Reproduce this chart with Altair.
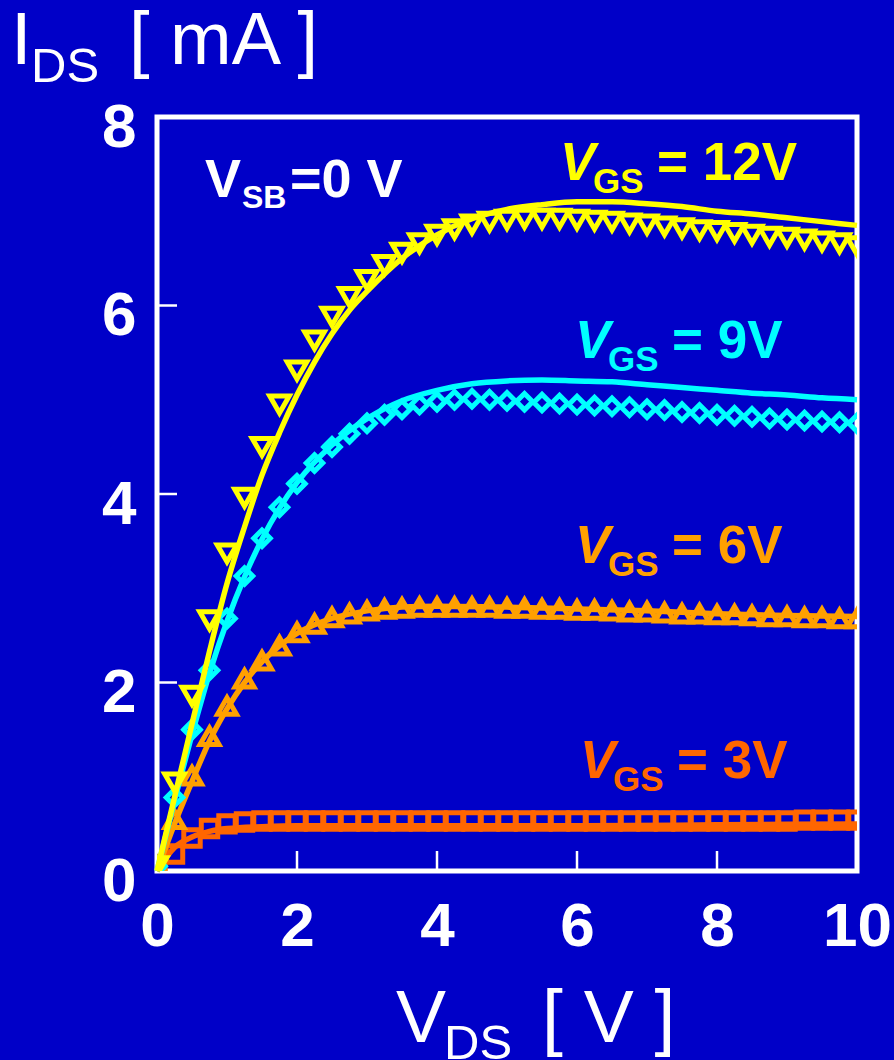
import altair as alt
import pandas as pd

# ---------------- data ----------------
VDS_MEAS = [0, 0.25, 0.5, 0.75, 1.0, 1.25, 1.5, 1.75, 2.0, 2.25, 2.5, 2.75, 3.0, 3.25,
            3.5, 3.75, 4.0, 4.25, 4.5, 4.75, 5.0, 5.25, 5.5, 5.75, 6.0, 6.25, 6.5,
            6.75, 7.0, 7.25, 7.5, 7.75, 8.0, 8.25, 8.5, 8.75, 9.0, 9.25, 9.5, 9.75, 10.0]

MEAS_12V = [0.05, 0.94, 1.86, 2.66, 3.37, 3.96, 4.50, 4.95, 5.31, 5.63, 5.88, 6.09, 6.27, 6.43,
            6.56, 6.66, 6.75, 6.81, 6.86, 6.89, 6.91, 6.92, 6.92, 6.92, 6.91, 6.90, 6.89,
            6.87, 6.86, 6.84, 6.82, 6.80, 6.79, 6.77, 6.75, 6.73, 6.72, 6.70, 6.68, 6.66, 6.63]
MEAS_9V = [0.05, 0.78, 1.50, 2.13, 2.68, 3.13, 3.53, 3.86, 4.11, 4.33, 4.50, 4.64, 4.75, 4.84,
           4.90, 4.95, 4.98, 5.00, 5.01, 5.00, 4.99, 4.98, 4.97, 4.96, 4.95, 4.94, 4.93,
           4.92, 4.90, 4.89, 4.87, 4.86, 4.84, 4.83, 4.82, 4.80, 4.79, 4.78, 4.77, 4.76, 4.75]
MEAS_6V = [0.05, 0.55, 1.01, 1.43, 1.75, 2.04, 2.23, 2.39, 2.53, 2.62, 2.69, 2.73, 2.76, 2.78,
           2.79, 2.80, 2.80, 2.80, 2.80, 2.80, 2.79, 2.79, 2.78, 2.78, 2.77, 2.77, 2.76,
           2.75, 2.75, 2.74, 2.73, 2.73, 2.72, 2.72, 2.71, 2.70, 2.70, 2.69, 2.69, 2.68, 2.68]
MEAS_3V = [0.05, 0.18, 0.35, 0.45, 0.50, 0.52, 0.53, 0.53, 0.53, 0.53, 0.53, 0.53, 0.53, 0.53,
           0.53, 0.53, 0.53, 0.53, 0.53, 0.53, 0.53, 0.53, 0.53, 0.53, 0.53, 0.53, 0.53,
           0.53, 0.53, 0.53, 0.53, 0.53, 0.53, 0.53, 0.53, 0.53, 0.53, 0.54, 0.54, 0.54, 0.54]

SIM_X_12V = [0, 0.25, 0.5, 0.75, 1.0, 1.25, 1.5, 1.75, 2.0, 2.25, 2.5, 2.75, 3.0, 3.5, 4.0,
             4.5, 5.0, 5.5, 6.0, 6.5, 7.0, 7.5, 8.0, 8.5, 9.0, 9.5, 10.0]
SIM_12V = [0, 0.78, 1.56, 2.33, 3.05, 3.65, 4.20, 4.65, 5.05, 5.40, 5.70, 5.95, 6.15, 6.50, 6.75,
           6.92, 7.02, 7.07, 7.10, 7.10, 7.08, 7.05, 7.00, 6.97, 6.93, 6.89, 6.85]
SIM_X_9V = [0, 0.25, 0.5, 0.75, 1.0, 1.25, 1.5, 1.75, 2.0, 2.5, 3.0, 3.5, 4.0, 4.5, 5.0, 5.5,
            6.0, 6.5, 7.0, 7.5, 8.0, 8.5, 9.0, 9.5, 10.0]
SIM_9V = [0, 0.75, 1.45, 2.10, 2.65, 3.12, 3.52, 3.85, 4.12, 4.52, 4.80, 4.99, 5.10, 5.17, 5.20,
          5.21, 5.20, 5.19, 5.16, 5.13, 5.10, 5.07, 5.05, 5.02, 5.00]
SIM_X_6V = [0, 0.25, 0.5, 0.75, 1.0, 1.25, 1.5, 1.75, 2.0, 2.5, 3.0, 3.5, 4.0, 5.0, 6.0, 7.0,
            8.0, 9.0, 10.0]
SIM_6V = [0, 0.50, 0.95, 1.38, 1.72, 2.00, 2.22, 2.39, 2.52, 2.68, 2.76, 2.80, 2.81, 2.80, 2.78,
          2.76, 2.73, 2.71, 2.70]
SIM_X_3V = [0, 0.25, 0.5, 0.75, 1.0, 1.5, 2.0, 4.0, 6.0, 8.0, 10.0]
SIM_3V = [0, 0.25, 0.36, 0.42, 0.45, 0.47, 0.48, 0.48, 0.48, 0.49, 0.50]

X_TICKS = [2, 4, 6, 8]
Y_TICKS = [2, 4, 6]

SERIES = ["3V", "6V", "9V", "12V"]
COLORS = {"3V": "#ff6600", "6V": "#ffa000", "9V": "#00ffff", "12V": "#ffff00"}
SHAPES = {"3V": "square", "6V": "triangle-up", "9V": "diamond", "12V": "triangle-down"}
SIZES = {"3V": 270, "6V": 360, "9V": 270, "12V": 380}
MEAS = {"3V": MEAS_3V, "6V": MEAS_6V, "9V": MEAS_9V, "12V": MEAS_12V}
SIM = {"3V": (SIM_X_3V, SIM_3V), "6V": (SIM_X_6V, SIM_6V),
       "9V": (SIM_X_9V, SIM_9V), "12V": (SIM_X_12V, SIM_12V)}

# ---------------- chart ----------------
BG = "#0000c8"
FONT = "Liberation Sans"
LEFT, TOP, W, H = 157, 117, 700, 754

xs = alt.Scale(domain=[0, 10], nice=False, zero=False)
ys = alt.Scale(domain=[0, 8], nice=False, zero=False)
xaxis = alt.Axis(values=[0, 2, 4, 6, 8, 10], format="d", title=None, grid=False,
                 domain=False, ticks=False, tickSize=0, labelFont=FONT,
                 labelFontSize=62, labelFontWeight="bold", labelColor="white",
                 labelBaseline="alphabetic", labelPadding=74, labelAlign="center")
yaxis = alt.Axis(values=[0, 2, 4, 6, 8], format="d", title=None, grid=False,
                 domain=False, ticks=False, tickSize=0, labelFont=FONT,
                 labelFontSize=62, labelFontWeight="bold", labelColor="white",
                 labelBaseline="middle", labelPadding=21, labelAlign="right",
                 labelOffset=10)
X = alt.X("vds:Q", scale=xs, axis=xaxis)
Y = alt.Y("ids:Q", scale=ys, axis=yaxis)

layers = []

xt = alt.Chart(pd.DataFrame({"vds": X_TICKS})).mark_rule(
    color="white", strokeWidth=2.5).encode(x=X, y=alt.value(H), y2=alt.value(H - 20))
yt = alt.Chart(pd.DataFrame({"ids": Y_TICKS})).mark_rule(
    color="white", strokeWidth=2.5).encode(y=Y, x=alt.value(0), x2=alt.value(20))
layers += [xt, yt]

for s in SERIES:
    dm = pd.DataFrame({"vds": VDS_MEAS, "ids": MEAS[s]})
    pts = alt.Chart(dm).mark_point(
        shape=SHAPES[s], filled=False, size=SIZES[s], strokeWidth=5,
        color=COLORS[s], opacity=1, clip=True).encode(x=X, y=Y)
    sx, sy = SIM[s]
    dl = pd.DataFrame({"vds": sx, "ids": sy})
    ln = alt.Chart(dl).mark_line(color=COLORS[s], strokeWidth=5.5,
                                 interpolate="monotone").encode(x=X, y=Y)
    layers += [pts, ln]


def txt(s, px, py, size, color="white", bold=True, italic=False):
    return alt.Chart(pd.DataFrame({"t": [s]})).mark_text(
        font=FONT, fontSize=size, fontWeight="bold" if bold else "normal",
        fontStyle="italic" if italic else "normal", color=color,
        align="left", baseline="alphabetic").encode(
        text="t:N", x=alt.value(px - LEFT), y=alt.value(py - TOP))


# axis titles
layers += [
    txt("I", 11, 64, 74, bold=False),
    txt("DS", 31, 82, 49, bold=False),
    txt("[ mA ]", 129, 64, 74, bold=False),
    txt("V", 396, 1042, 75, bold=False),
    txt("DS", 444, 1059, 49, bold=False),
    txt("[ V ]", 542, 1042, 75, bold=False),
]

# annotations
layers += [
    txt("V", 205, 197, 54),
    txt("SB", 242, 208, 32),
    txt("=0 V", 290, 197, 54),
]
ANN = [("12V", "= 12V", 180, 560), ("9V", "= 9V", 358, 575),
       ("6V", "= 6V", 563, 575), ("3V", "= 3V", 778, 580)]
for s, label, base, vx in ANN:
    c = COLORS[s]
    layers += [
        txt("V", vx, base, 53, color=c, italic=True),
        txt("GS", vx + 33, base + 13, 35, color=c),
        txt(label, vx + 97, base, 53, color=c),
    ]

chart = alt.layer(*layers).properties(
    width=W, height=H,
    padding={"left": LEFT, "top": TOP, "right": 894 - LEFT - W, "bottom": 1060 - TOP - H},
    autosize=alt.AutoSizeParams(type="none"),
    background=BG,
).configure_view(stroke="white", strokeWidth=5)

chart.save("out.html", embed_options={"renderer": "svg", "actions": False})
